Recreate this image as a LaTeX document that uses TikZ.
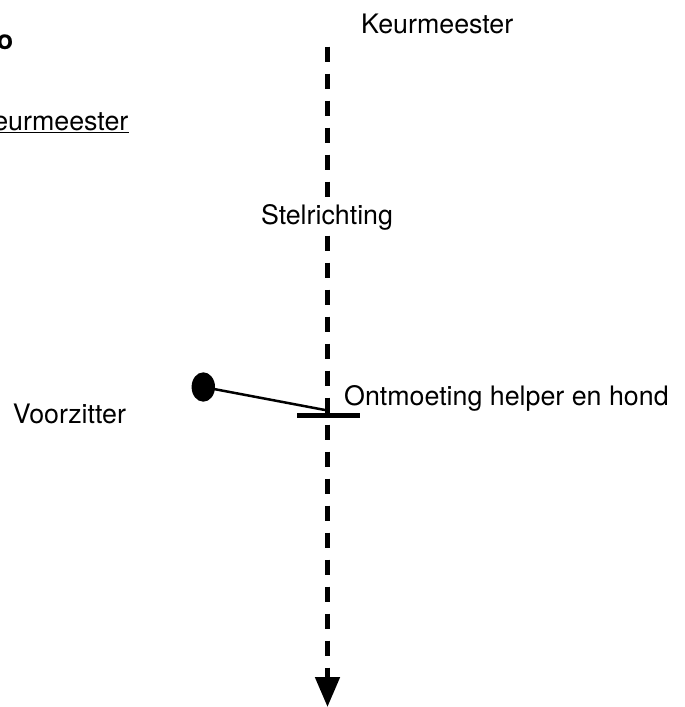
\documentclass[tikz,border=0pt]{standalone}
\usepackage{fontspec}
\setmainfont{TeX Gyre Heros}
\usetikzlibrary{arrows.meta,shapes.geometric}
\tikzset{
  lbl/.style={inner sep=0pt, anchor=base west, font=\fontsize{26.8}{30}\selectfont},
  axis/.style={line width=5pt, dash pattern=on 15.5pt off 11.5pt, -{Triangle[width=24pt,length=30pt]}},
  bar/.style={line width=5pt},
  thin/.style={line width=2.5pt},
  dot/.style={ellipse, fill=black, minimum width=23.4pt, minimum height=29.4pt, inner sep=0pt}
}
\begin{document}
\begin{tikzpicture}[x=1pt,y=-1pt]
\useasboundingbox (0,0) rectangle (685,707);
% axis
\coordinate (top) at (327.5,46.7);
\coordinate (bottom) at (327.5,707);
\draw[axis] (top) -- (bottom);
% crossbar
\coordinate (barL) at (297,415.2);
\coordinate (barR) at (360,415.2);
\draw[bar] (barL) -- (barR);
% dot and line
\node[dot] (voor) at (203.3,387) {};
\coordinate (meet) at (325,410);
\draw[thin] (voor.center) -- (meet);
% labels
\node[lbl] (keur) at (361,33.3) {Keurmeester};
\node[lbl, fill=white] (stel) at (260.8,224) {Stelrichting};
\node[lbl] (ontm) at (344,405) {Ontmoeting helper en hond};
\node[lbl] (vz) at (12.7,423) {Voorzitter};
\node[lbl, anchor=base east, font=\fontsize{26.8}{30}\selectfont\bfseries] (ttl) at (13.5,49.7) {o};
\node[lbl, anchor=base east] (keur2) at (128.5,130) {eurmeester};
\coordinate (ulL) at (0,132.5);
\coordinate (ulR) at (128.5,132.5);
\draw[line width=1.5pt] (ulL) -- (ulR);
\end{tikzpicture}
\end{document}
